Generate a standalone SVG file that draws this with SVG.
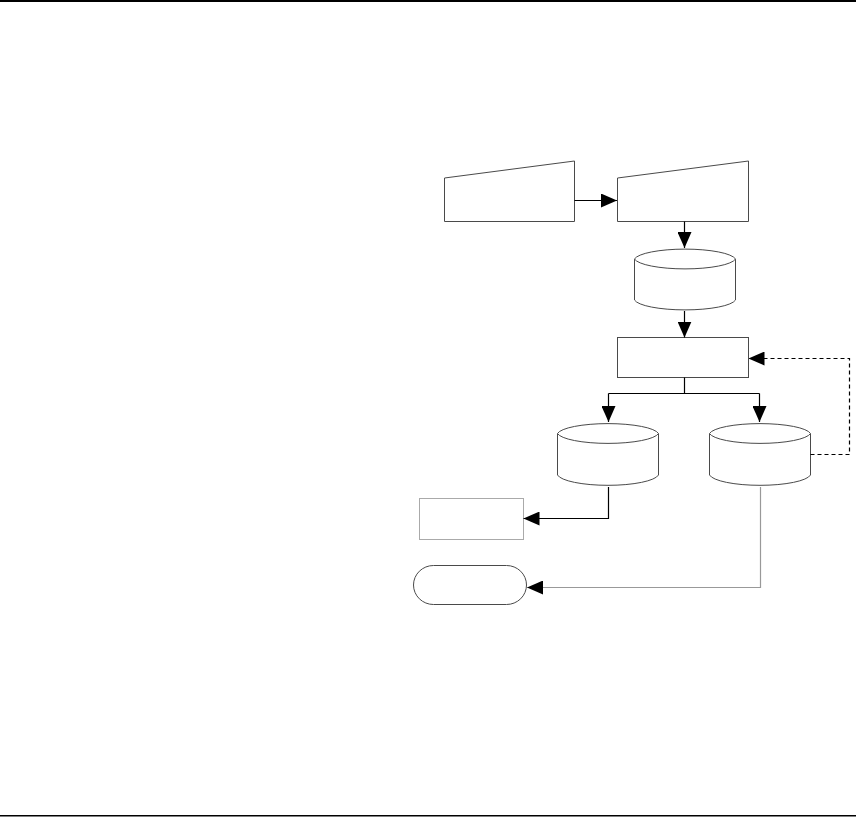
<svg xmlns="http://www.w3.org/2000/svg" width="856" height="817" viewBox="0 0 856 817">
<style>
.shape{fill:#fff;stroke:#4a4a4a;stroke-width:1}
.light{fill:#fff;stroke:#aaa;stroke-width:1}
.conn{fill:none;stroke:#000;stroke-width:1.2}
.gray{fill:none;stroke:#999;stroke-width:1.2}
.dash{fill:none;stroke:#000;stroke-width:1.2;stroke-dasharray:4 3}
</style>
<defs>
<marker id="ah" markerUnits="userSpaceOnUse" markerWidth="16" markerHeight="14" viewBox="0 0 16 14" refX="16" refY="7" orient="auto">
<path d="M0,0 L16,7 L0,14 Z" fill="#000"/>
</marker>
</defs>
<rect x="0" y="0" width="856" height="2" fill="#000"/>
<rect x="0" y="815" width="856" height="1.5" fill="#000"/>
<g id="input1"><path class="shape" d="M444.5,178 L574.5,161 L574.5,221.5 L444.5,221.5 Z"/></g>
<g id="input2"><path class="shape" d="M617.5,178 L748.5,161 L748.5,221.5 L617.5,221.5 Z"/></g>
<g id="store1"><path class="shape" d="M634.5,259 L634.5,300 A51,11.5 0 0 0 735.5,300 L735.5,259 A51,11.5 0 0 0 634.5,259 Z"/><path class="shape" fill="none" d="M634.5,259 A51,11.5 0 0 0 735.5,259"/></g>
<g id="process"><rect class="shape" x="617.5" y="337.5" width="131" height="40"/></g>
<g id="store2"><path class="shape" d="M557.5,433.5 L557.5,475 A51,12 0 0 0 658.5,475 L658.5,433.5 A51,11.5 0 0 0 557.5,433.5 Z"/><path class="shape" d="M557.5,433.5 A51,11.5 0 0 0 658.5,433.5"/></g>
<g id="store3"><path class="shape" d="M709.5,433.5 L709.5,475 A51,12 0 0 0 810.5,475 L810.5,433.5 A51,11.5 0 0 0 709.5,433.5 Z"/><path class="shape" d="M709.5,433.5 A51,11.5 0 0 0 810.5,433.5"/></g>
<g id="output"><rect class="light" x="419.5" y="498.5" width="104" height="41"/></g>
<g id="terminal"><rect class="shape" x="413.5" y="565.5" width="113" height="39" rx="20" ry="19.5"/></g>
<g id="connectors">
<path class="conn" d="M574.5,200.5 L617,200.5" marker-end="url(#ah)"/>
<path class="conn" d="M684.5,221.5 L684.5,248" marker-end="url(#ah)"/>
<path class="conn" d="M684.5,311 L684.5,337.5" marker-end="url(#ah)"/>
<path class="conn" d="M684.5,377.5 L684.5,393.5"/>
<path class="conn" d="M608.5,393.5 L759.5,393.5"/>
<path class="conn" d="M608.5,393.5 L608.5,422" marker-end="url(#ah)"/>
<path class="conn" d="M759.5,393.5 L759.5,422" marker-end="url(#ah)"/>
<path class="dash" d="M810.5,454.5 L849.5,454.5 L849.5,358.5 L748.5,358.5" marker-end="url(#ah)"/>
<path class="conn" d="M608.5,487 L608.5,518.5 L523.5,518.5" marker-end="url(#ah)"/>
<path class="gray" d="M760.5,487 L760.5,587.5 L527,587.5" marker-end="url(#ah)"/>
</g>
</svg>
